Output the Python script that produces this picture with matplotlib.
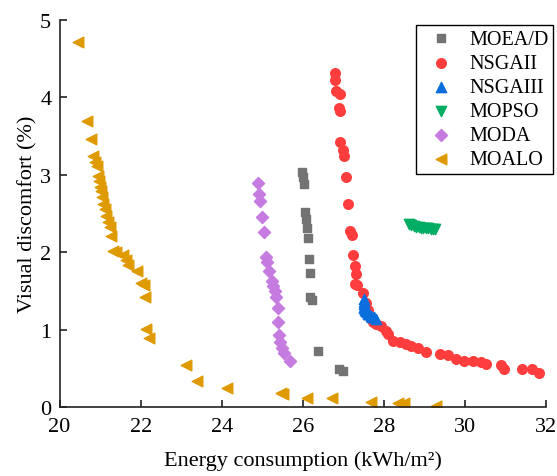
import numpy as np
import matplotlib
matplotlib.use("Agg")
import matplotlib.pyplot as plt

plt.rcParams['font.family'] = ['Liberation Serif', 'DejaVu Serif']

# MOEA/D
moead_x = [25.99, 26.00, 26.02, 26.05, 26.07, 26.10, 26.13, 26.15, 26.17, 26.19, 26.24, 26.37, 26.89, 26.99]
moead_y = [3.04, 2.97, 2.88, 2.52, 2.43, 2.32, 2.19, 1.91, 1.74, 1.43, 1.38, 0.73, 0.50, 0.47]

# NSGAII
nsga2_x = [26.79, 26.80, 26.83, 26.91, 26.89, 26.91, 26.93, 26.99, 27.03, 27.07, 27.11, 27.16, 27.21,
           27.25, 27.28, 27.32, 27.30, 27.33, 27.48, 27.55, 27.60, 27.65, 27.73, 27.80, 27.94, 28.06, 28.10,
           28.22, 28.39, 28.55, 28.67, 28.84, 29.04, 29.39, 29.58, 29.78, 29.99, 30.19, 30.40, 30.52,
           30.89, 30.97, 31.42, 31.67, 31.82]
nsga2_y = [4.31, 4.23, 4.08, 4.05, 3.87, 3.83, 3.43, 3.32, 3.25, 2.97, 2.63, 2.28, 2.23,
           1.96, 1.83, 1.72, 1.59, 1.58, 1.48, 1.35, 1.25, 1.16, 1.10, 1.08, 1.05, 0.99, 0.95,
           0.86, 0.84, 0.82, 0.79, 0.77, 0.71, 0.69, 0.67, 0.63, 0.60, 0.60, 0.59, 0.56,
           0.55, 0.50, 0.50, 0.49, 0.44]

# NSGAIII
nsga3_x = [27.52, 27.50, 27.50, 27.51, 27.52, 27.54, 27.56, 27.58, 27.61, 27.64, 27.68, 27.72, 27.76, 27.80]
nsga3_y = [1.40, 1.36, 1.33, 1.30, 1.28, 1.26, 1.24, 1.23, 1.21, 1.20, 1.18, 1.17, 1.16, 1.14]

# MOPSO
mopso_x = [28.62, 28.68, 28.74, 28.80, 28.86, 28.92, 28.98, 29.04, 29.10, 29.16, 29.22, 29.27]
mopso_y = [2.36, 2.35, 2.34, 2.33, 2.33, 2.32, 2.32, 2.31, 2.31, 2.30, 2.30, 2.30]

# MODA
moda_x = [24.89, 24.92, 24.94, 25.00, 25.05, 25.10, 25.13, 25.17, 25.24, 25.27, 25.31, 25.33,
          25.39, 25.39, 25.41, 25.45, 25.50, 25.54, 25.68]
moda_y = [2.89, 2.76, 2.66, 2.46, 2.26, 1.94, 1.87, 1.76, 1.63, 1.57, 1.50, 1.42,
          1.28, 1.10, 0.93, 0.84, 0.77, 0.70, 0.60]

# MOALO
moalo_x = [20.46, 20.68, 20.78, 20.83, 20.87, 20.92, 20.95, 20.97, 21.00, 21.02, 21.05, 21.07, 21.12,
           21.15, 21.19, 21.24, 21.27, 21.32, 21.39, 21.57, 21.65, 21.70, 21.92, 22.02, 22.08, 22.11,
           22.12, 22.20, 23.12, 23.38, 24.12, 25.47, 25.51, 26.10, 26.73, 27.69, 28.34, 28.51, 29.29]
moalo_y = [4.71, 3.69, 3.47, 3.24, 3.17, 3.11, 2.98, 2.92, 2.85, 2.79, 2.71, 2.62, 2.56,
           2.47, 2.39, 2.33, 2.21, 2.02, 2.00, 1.96, 1.90, 1.84, 1.76, 1.61, 1.58, 1.43,
           1.01, 0.90, 0.55, 0.34, 0.25, 0.19, 0.17, 0.12, 0.12, 0.07, 0.06, 0.05, 0.02]

fig = plt.figure(figsize=(5.57, 4.77), dpi=100)
ax = fig.add_axes([0.107, 0.144, 0.873, 0.812])

ax.scatter(moead_x, moead_y, marker='s', s=30, color='#737373', label='MOEA/D')
ax.scatter(nsga2_x, nsga2_y, marker='o', s=48, color='#FF3D3D', label='NSGAII')
ax.scatter(nsga3_x, nsga3_y, marker='^', s=55, color='#0A6EDC', label='NSGAIII')
ax.scatter(mopso_x, mopso_y, marker='v', s=55, color='#00AD63', label='MOPSO')
ax.scatter(moda_x, moda_y, marker='D', s=38, color='#C67BE0', label='MODA')
ax.scatter(moalo_x, moalo_y, marker='<', s=58, color='#DF9A00', label='MOALO')

ax.set_xlim(20, 32)
ax.set_ylim(0, 5)
ax.set_xticks([20, 22, 24, 26, 28, 30, 32])
ax.set_yticks([0, 1, 2, 3, 4, 5])
ax.spines['top'].set_visible(False)
ax.spines['right'].set_visible(False)
for sp in ['left', 'bottom']:
    ax.spines[sp].set_linewidth(1.2)
    ax.spines[sp].set_color('#222222')
ax.tick_params(direction='in', length=5, width=1.2, labelsize=16, colors='#222222', labelcolor='black')
ax.tick_params(axis='x', pad=7)
ax.tick_params(axis='y', pad=6)

ax.set_xlabel('Energy consumption (kWh/m²)', fontsize=16, labelpad=10)
ax.set_ylabel('Visual discomfort (%)', fontsize=16, labelpad=2)

leg = ax.legend(loc='upper right', bbox_to_anchor=(0.993, 0.945), bbox_transform=fig.transFigure,
                fontsize=14.5, frameon=True, fancybox=False, edgecolor='black', framealpha=1,
                borderaxespad=0, handlelength=2.0, handletextpad=0.43, labelspacing=0.25,
                borderpad=0.22)
leg.get_frame().set_linewidth(1.0)

fig.savefig('out.png', dpi=100)
